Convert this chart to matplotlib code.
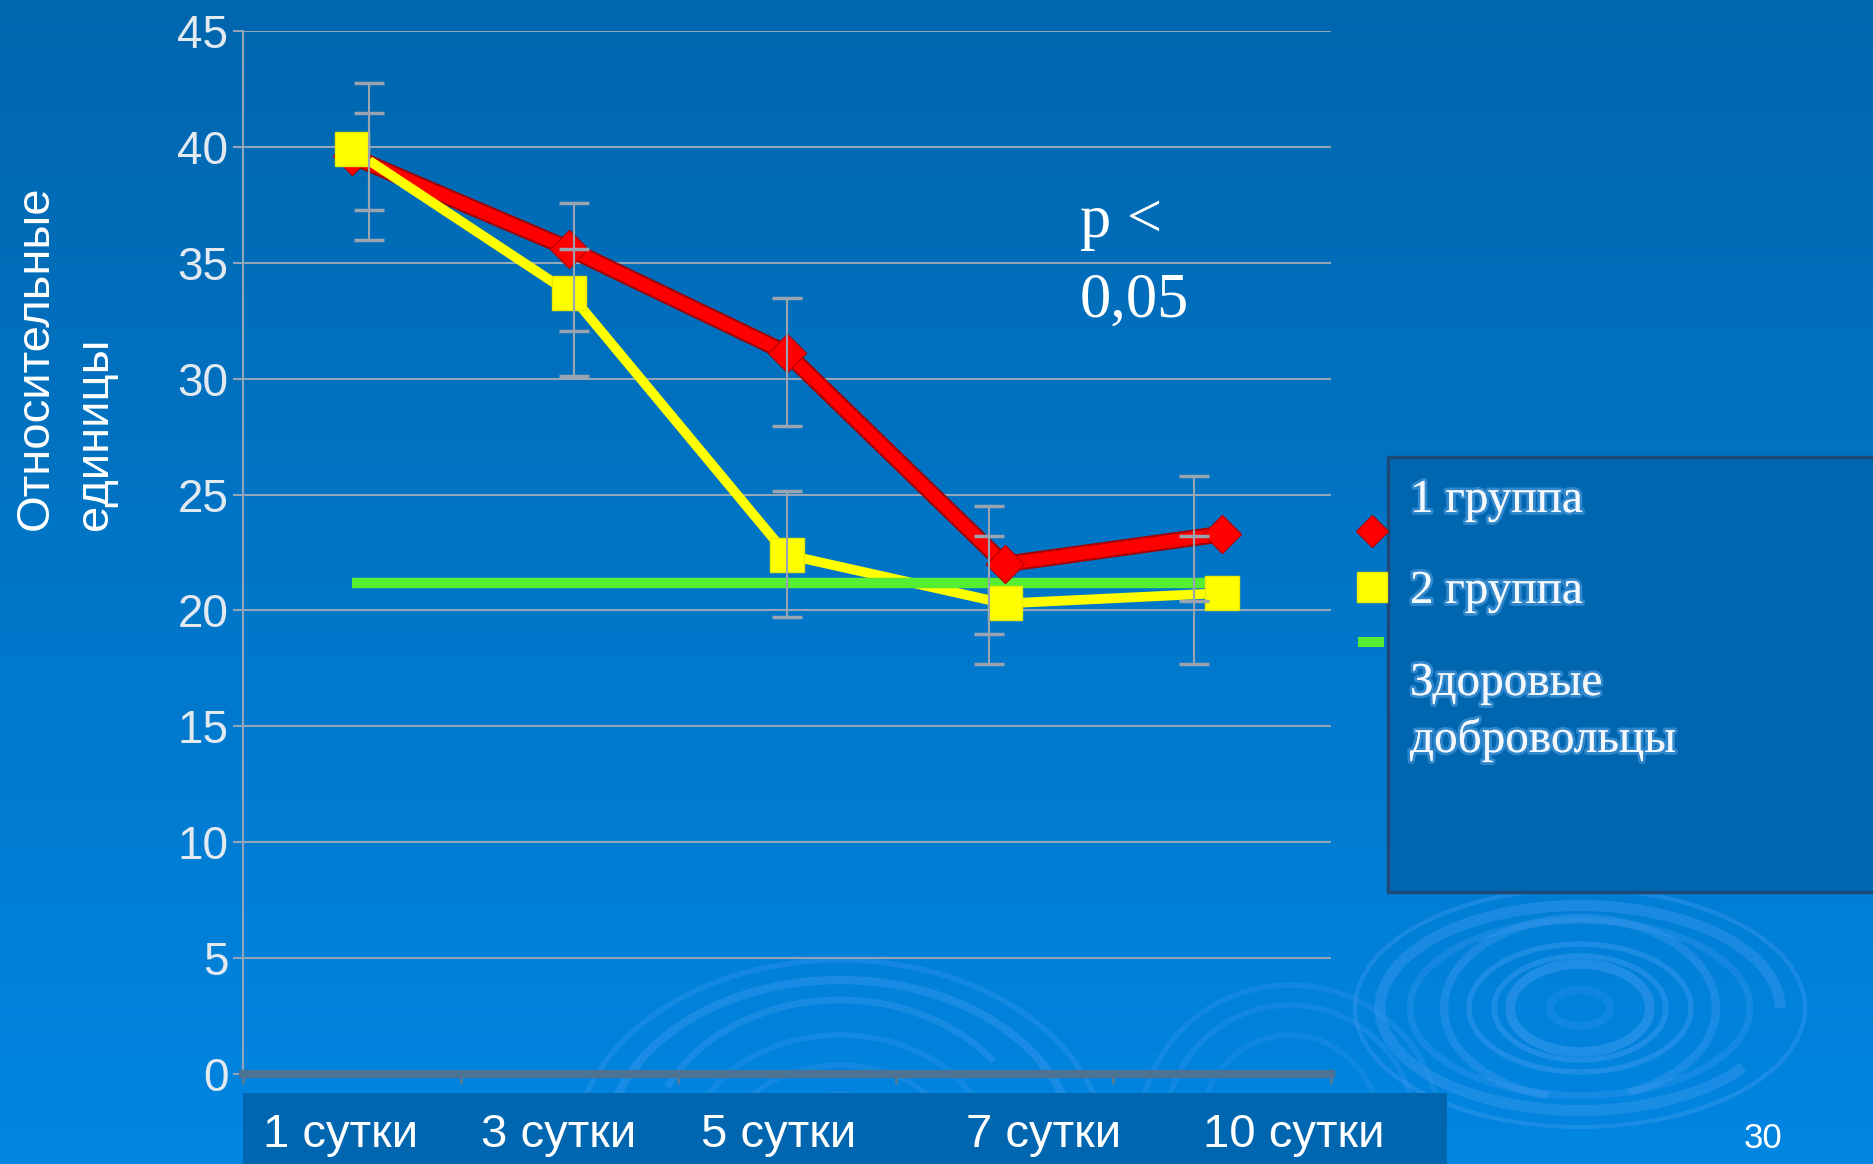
import numpy as np
import matplotlib
matplotlib.use("Agg")
import matplotlib.pyplot as plt
from matplotlib.patches import Rectangle, Arc
from matplotlib.lines import Line2D
import matplotlib.patheffects as pe
import matplotlib.transforms as mtransforms

# ---------------- data ----------------
categories = ["1 сутки", "3 сутки", "5 сутки", "7 сутки", "10 сутки"]
group1 = [39.6, 35.6, 31.1, 22.0, 23.3]
group2 = [39.9, 33.7, 22.4, 20.3, 20.75]
healthy = [21.2, 21.2, 21.2, 21.2, 21.2]
group1_hi = [42.75, 37.6, 33.5, 24.5, 25.8]
group1_lo = [36.0, 32.05, 27.95, 19.0, 20.4]
group2_hi = [41.46, 35.6, 25.15, 23.2, 23.2]
group2_lo = [37.27, 30.1, 19.7, 17.7, 17.7]
yticks = [0, 5, 10, 15, 20, 25, 30, 35, 40, 45]
series_names = ["1 группа", "2 группа", "Здоровые\nдобровольцы"]
y_label = "Относительные\nединицы"
annotation = "p <\n0,05"
page_number = "30"

# ---------------- layout / style ----------------
W, H = 1873, 1164
errbar_offset = [0.08, 0.02, 0.0, -0.07, -0.13]   # error bars drawn slightly shifted as in slide
label_offset = [-0.05, -0.05, -0.04, 0.18, 0.33]  # category label shifts (layout)

def fx(x):
    return x / W

def fy(y):
    return 1 - y / H

SANS = ["Liberation Sans", "DejaVu Sans"]
SERIF = ["Liberation Serif", "DejaVu Serif"]
plt.rcParams["font.family"] = SANS

fig = plt.figure(figsize=(W / 100, H / 100), dpi=100)

# background gradient
bg = fig.add_axes([0, 0, 1, 1], zorder=-10)
top = np.array([0, 102, 174]) / 255
bot = np.array([0, 134, 226]) / 255
t = np.linspace(0, 1, 256)[:, None, None]
grad = top * (1 - t) + bot * t
bg.imshow(grad, aspect="auto", extent=[0, W, H, 0])
bg.set_xlim(0, W)
bg.set_ylim(H, 0)
bg.axis("off")

ring_col = "#3a98ee"
# decorative rings (bottom right)
cx, cy = 1580, 1008
for (w, h, lw, a, t1, t2) in [
    (450, 238, 3, 0.45, 0, 360), (400, 205, 8, 0.45, 20, 360),
    (340, 175, 5, 0.35, 0, 360), (272, 180, 6, 0.45, 110, 420),
    (222, 128, 4, 0.5, 0, 360), (172, 104, 4, 0.5, 0, 360),
    (140, 88, 7, 0.55, 0, 360), (60, 36, 6, 0.25, 0, 360)]:
    bg.add_patch(Arc((cx, cy), w, h, theta1=t1, theta2=t2, lw=lw, color=ring_col, alpha=a))
# decorative rings (bottom centre) - upper halves (y axis inverted)
cx2, cy2 = 840, 1150
for (w, h, lw, a, t1, t2) in [
    (530, 380, 4, 0.35, 180, 360), (470, 340, 6, 0.45, 180, 360),
    (380, 300, 5, 0.4, 200, 330), (300, 230, 4, 0.3, 180, 360),
    (230, 170, 4, 0.3, 180, 360), (150, 110, 5, 0.25, 180, 360)]:
    bg.add_patch(Arc((cx2, cy2), w, h, theta1=t1, theta2=t2, lw=lw, color=ring_col, alpha=a))
cx3, cy3 = 1290, 1130
for (w, h, lw, a) in [(300, 290, 4, 0.3), (250, 250, 4, 0.3), (180, 190, 4, 0.25)]:
    bg.add_patch(Arc((cx3, cy3), w, h, theta1=180, theta2=360, lw=lw, color=ring_col, alpha=a))

# category label band
fig.add_artist(Rectangle((fx(243), 0), fx(1447) - fx(243), fy(1093), transform=fig.transFigure,
                         facecolor="#0066b0", edgecolor="none", zorder=-5))

# ---------------- main axes ----------------
ax = fig.add_axes([fx(243), fy(1074), fx(1331) - fx(243), fy(31) - fy(1074)])
ax.patch.set_alpha(0)
x = np.arange(len(categories))
ax.set_xlim(-0.5, len(categories) - 0.5)
ax.set_ylim(0, 45)

grid_col = "#93a6b9"
ax.set_yticks(yticks)
ax.yaxis.grid(True, color=grid_col, lw=1.5)
ax.set_axisbelow(True)
ax.set_xticks(np.arange(-0.5, len(categories), 1.0))
ax.set_xticklabels([])
ax.tick_params(axis="x", length=7, width=2, color="#5a7c9a", direction="out")
ax.tick_params(axis="y", length=7, width=1.5, color=grid_col, pad=3.5,
               labelsize=33, labelcolor="#e2e9f1")
for s in ["top", "right"]:
    ax.spines[s].set_visible(False)
ax.spines["left"].set_color(grid_col)
ax.spines["left"].set_linewidth(1.5)
ax.spines["bottom"].set_color("#4d7394")
ax.spines["bottom"].set_linewidth(6)

# lines
ax.plot(x, group1, color="#ff0000", lw=9, zorder=3, solid_joinstyle="miter",
        path_effects=[pe.Stroke(linewidth=12, foreground="#a80000"), pe.Normal()])
ax.plot(x, group2, color="#ffff00", lw=7, zorder=4)
ax.plot(x, healthy, color="#55ee33", lw=7.5, zorder=5, solid_capstyle="butt")
ax.plot(x, group1, ls="none", marker="D", ms=19, mfc="#ff0000", mec="#c00000", mew=1, zorder=5.5)
ax.plot(x, group2, ls="none", marker="s", ms=24, mfc="#ffff00", mec="#e8e800", mew=1, zorder=6)

# error bars
ex = x + np.array(errbar_offset)
g1 = np.array(group1); g2 = np.array(group2)
ax.errorbar(ex, g1, yerr=[g1 - np.array(group1_lo), np.array(group1_hi) - g1], fmt="none",
            ecolor="#9aa4b0", elinewidth=1.5, capsize=11, capthick=2.5, zorder=7)
ax.errorbar(ex, g2, yerr=[g2 - np.array(group2_lo), np.array(group2_hi) - g2], fmt="none",
            ecolor="#9aa4b0", elinewidth=1.5, capsize=11, capthick=2.5, zorder=7)

# category labels
trans = mtransforms.blended_transform_factory(ax.transData, fig.transFigure)
for i, lab in enumerate(categories):
    ax.text(i + label_offset[i], fy(1147), lab, transform=trans, ha="center", va="baseline",
            fontsize=34, color="white", clip_on=False)

# y label
fig.text(fx(65), fy(530), y_label, rotation=90, ha="center", va="bottom",
         multialignment="left", fontsize=34, color="white", linespacing=1.45)

# annotation
ann = annotation.split("\n")
fig.text(fx(1080), fy(237), ann[0], ha="left", va="baseline", fontsize=45,
         color="white", family=SERIF)
fig.text(fx(1080), fy(317), ann[1], ha="left", va="baseline", fontsize=45,
         color="white", family=SERIF)

# legend box
fig.add_artist(Rectangle((fx(1388), fy(892)), fx(1880) - fx(1388), fy(457) - fy(892),
                         transform=fig.transFigure, facecolor="#0066b0",
                         edgecolor="#1b4a78", lw=2.5, zorder=2))
fig.add_artist(Line2D([fx(1372)], [fy(531)], marker="D", ms=16.5, mfc="#ff0000", mec="#c00000",
                      ls="none", transform=fig.transFigure, zorder=3))
fig.add_artist(Line2D([fx(1372)], [fy(587)], marker="s", ms=21.5, mfc="#ffff00", mec="#e8e800",
                      ls="none", transform=fig.transFigure, zorder=3))
fig.add_artist(Rectangle((fx(1358), fy(647)), fx(1384) - fx(1358), fy(637) - fy(647),
                         transform=fig.transFigure, facecolor="#55ee33", edgecolor="none", zorder=3))
glow = [pe.withStroke(linewidth=4, foreground=(0.55, 0.78, 1.0, 0.35))]
leg_base = [[512], [603], [695, 752]]
for name, bases in zip(series_names, leg_base):
    for line, b in zip(name.split("\n"), bases):
        fig.text(fx(1410), fy(b), line, ha="left", va="baseline", fontsize=34,
                 color="#f4f8fc", family=SERIF, path_effects=glow, zorder=4)

# page number
fig.text(fx(1763), fy(1148), page_number, ha="center", va="baseline", fontsize=25, color="white")

fig.savefig("out.png", dpi=100)
